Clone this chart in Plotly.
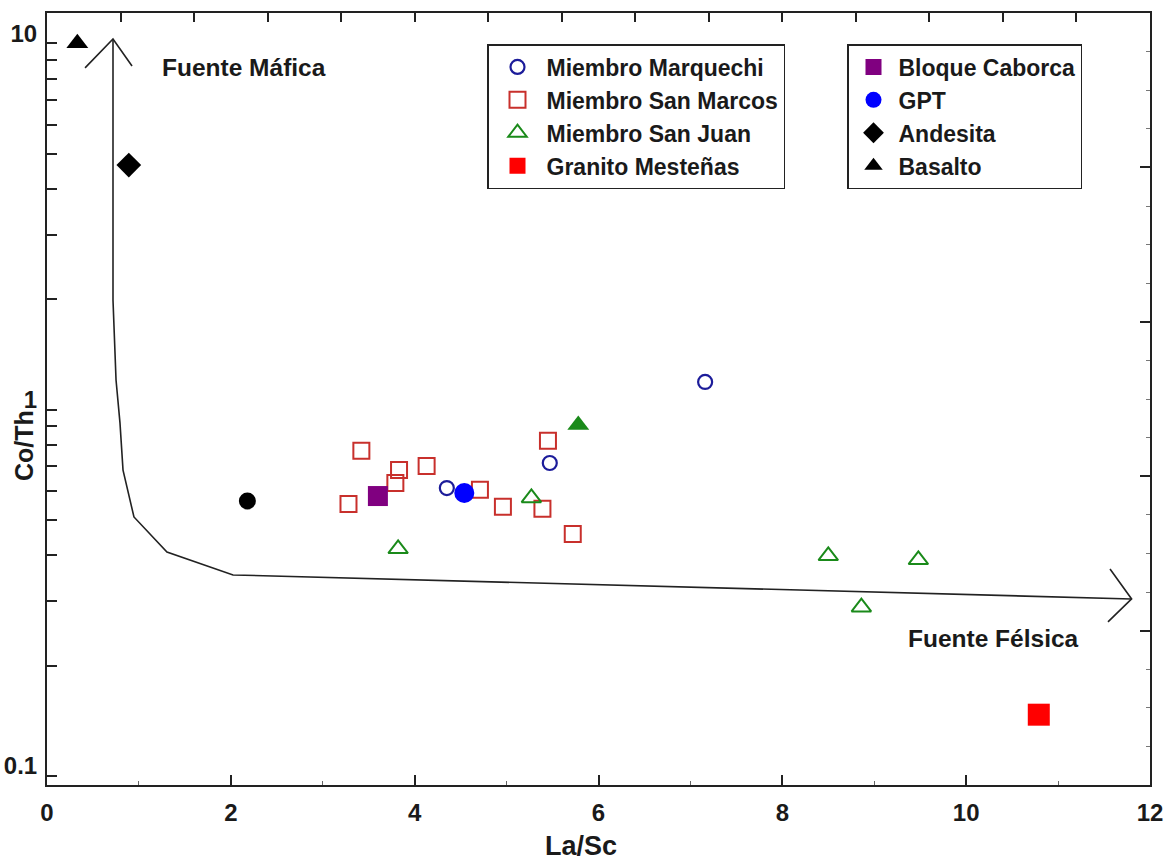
import math
import plotly.graph_objects as go

# ---------------- data ----------------
marq_x = [4.35, 5.47, 7.16]
marq_y = [0.611, 0.715, 1.19]

smarc_x = [3.42, 3.83, 3.79, 4.13, 3.28, 4.71, 4.96, 5.45, 5.39, 5.72]
smarc_y = [0.772, 0.684, 0.631, 0.702, 0.553, 0.604, 0.543, 0.822, 0.536, 0.458]

sjuan_x = [3.82, 5.27, 8.50, 9.48, 8.86]
sjuan_y = [0.417, 0.574, 0.399, 0.389, 0.289]

granito_x = [10.79]
granito_y = [0.147]

caborca_x = [3.60]
caborca_y = [0.581]

gpt_x = [4.54]
gpt_y = [0.592]

andesita_x = [0.89]
andesita_y = [4.65]

basalto_x = [0.33]
basalto_y = [10.0]

green_fill_x = [5.78]
green_fill_y = [0.908]

black_circ_x = [2.18]
black_circ_y = [0.563]

# source-trend curve
curve_x = [0.718, 0.718, 0.751, 0.794, 0.827, 0.946, 1.305, 2.024, 11.80]
curve_y = [10.27, 1.99, 1.205, 0.92, 0.684, 0.5095, 0.4088, 0.3538, 0.3043]
# arrowheads
arrow_up_x = [0.414, 0.718, 0.925]
arrow_up_y = [8.566, 10.27, 8.670]
arrow_right_x = [11.565, 11.80, 11.543]
arrow_right_y = [0.3674, 0.3043, 0.2634]

x_ticks = [0, 2, 4, 6, 8, 10, 12]
y_ticks = [0.1, 1, 10]
y_ticklabels = ["0.1", "1", "10"]
y_minor = [v * m for m in (0.1, 1) for v in range(2, 10)]

FONT = "Liberation Sans, Arial, sans-serif"
TXT = "#1a1a1a"

fig = go.Figure()

# curve and arrowheads
for xs, ys in [(curve_x, curve_y), (arrow_up_x, arrow_up_y), (arrow_right_x, arrow_right_y)]:
    fig.add_trace(go.Scatter(x=xs, y=ys, mode="lines", line=dict(color="#222222", width=1.6),
                             showlegend=False, hoverinfo="skip"))

fig.add_trace(go.Scatter(x=black_circ_x, y=black_circ_y, mode="markers", showlegend=False,
                         marker=dict(symbol="circle", size=17, color="black")))
fig.add_trace(go.Scatter(x=green_fill_x, y=green_fill_y, mode="markers", showlegend=False,
                         marker=dict(symbol="triangle-up", size=19, color="#1a8a1a")))

fig.add_trace(go.Scatter(x=marq_x, y=marq_y, mode="markers", name="Miembro Marquechi", legend="legend",
                         marker=dict(symbol="circle-open", size=14, color="#1c1c9a", line=dict(width=2.2))))
fig.add_trace(go.Scatter(x=smarc_x, y=smarc_y, mode="markers", name="Miembro San Marcos", legend="legend",
                         marker=dict(symbol="square-open", size=16, color="#c8302c", line=dict(width=2))))
fig.add_trace(go.Scatter(x=sjuan_x, y=sjuan_y, mode="markers", name="Miembro San Juan", legend="legend",
                         marker=dict(symbol="triangle-up-open", size=17, color="#1a8a1a", line=dict(width=2))))
fig.add_trace(go.Scatter(x=granito_x, y=granito_y, mode="markers", name="Granito Mesteñas", legend="legend",
                         marker=dict(symbol="square", size=22, color="#ff0000")))

fig.add_trace(go.Scatter(x=caborca_x, y=caborca_y, mode="markers", name="Bloque Caborca", legend="legend2",
                         marker=dict(symbol="square", size=20, color="#800080")))
fig.add_trace(go.Scatter(x=gpt_x, y=gpt_y, mode="markers", name="GPT", legend="legend2",
                         marker=dict(symbol="circle", size=20, color="#0000ff")))
fig.add_trace(go.Scatter(x=andesita_x, y=andesita_y, mode="markers", name="Andesita", legend="legend2",
                         marker=dict(symbol="diamond", size=19, color="black")))
fig.add_trace(go.Scatter(x=basalto_x, y=basalto_y, mode="markers", name="Basalto", legend="legend2",
                         marker=dict(symbol="triangle-up", size=19, color="black")))

# overlay axes for the top/right frame ticks
fig.add_trace(go.Scatter(x=[0], y=[0], xaxis="x2", yaxis="y2", mode="markers",
                         marker=dict(opacity=0), showlegend=False, hoverinfo="skip"))

fig.update_layout(
    width=1166, height=863,
    margin=dict(l=47, r=16, t=13, b=78, autoexpand=False),
    paper_bgcolor="white", plot_bgcolor="white",
    font=dict(family=FONT, size=24, color=TXT),
    xaxis=dict(range=[0, 12], tickvals=x_ticks, ticks="inside", ticklen=10, tickwidth=1.5,
               tickcolor="#222", showline=True, linecolor="#222", linewidth=2, mirror=True,
               showgrid=False, zeroline=False, ticklabelstandoff=5, automargin=False,
               tickfont=dict(family=FONT, size=24, color=TXT, weight="bold"),
               minor=dict(tickmode="array", tickvals=[1, 3, 5, 7, 9, 11], ticks="inside",
                          ticklen=4, tickwidth=1, tickcolor="#666")),
    yaxis=dict(type="log", range=[-1.0246, 1.0827], tickvals=y_ticks, ticktext=y_ticklabels,
               ticks="inside", ticklen=10, tickwidth=1.5, tickcolor="#222",
               showline=True, linecolor="#222", linewidth=2, mirror=True, automargin=False,
               showgrid=False, zeroline=False, ticklabelstandoff=3, ticklabelshift=-10,
               tickfont=dict(family=FONT, size=24, color=TXT, weight="bold"),
               minor=dict(tickmode="array", tickvals=y_minor, ticks="inside", ticklen=10,
                          tickwidth=1.5, tickcolor="#222")),
    xaxis2=dict(overlaying="x", side="top", range=[0, 15], tickmode="linear", tick0=0, dtick=1,
                ticks="inside", ticklen=9, tickwidth=1.5, tickcolor="#222", showticklabels=False,
                showline=False, showgrid=False, zeroline=False, automargin=False),
    yaxis2=dict(overlaying="y", side="right", range=[0, 5], tickmode="linear", tick0=0, dtick=1,
                ticks="inside", ticklen=10, tickwidth=1.5, tickcolor="#222", showticklabels=False,
                showline=False, showgrid=False, zeroline=False, automargin=False,
                minor=dict(tickmode="linear", tick0=0, dtick=0.25, ticks="inside", ticklen=4,
                           tickwidth=1, tickcolor="#777")),
    legend=dict(x=(487 - 47) / 1103, y=(785 - 44) / 772, xanchor="left", yanchor="top",
                bordercolor="#222", borderwidth=1.5, bgcolor="white", itemwidth=48,
                font=dict(family=FONT, size=23, color=TXT, weight="bold"), tracegroupgap=0),
    legend2=dict(x=(847 - 47) / 1103, y=(785 - 44) / 772, xanchor="left", yanchor="top",
                 bordercolor="#222", borderwidth=1.5, bgcolor="white", itemwidth=40,
                 font=dict(family=FONT, size=23, color=TXT, weight="bold"), tracegroupgap=0),
    annotations=[
        dict(text="<b>Fuente Máfica</b>", x=2.14, y=math.log10(8.6), xref="x", yref="y",
             xanchor="center", yanchor="middle",
             showarrow=False, font=dict(family=FONT, size=24.5, color=TXT)),
        dict(text="<b>Fuente Félsica</b>", x=10.30, y=math.log10(0.238), xref="x", yref="y",
             xanchor="center", yanchor="middle",
             showarrow=False, font=dict(family=FONT, size=24.5, color=TXT)),
        dict(text="<b>La/Sc</b>", x=(581 - 47) / 1103, y=(785 - 846) / 772, xref="paper", yref="paper",
             xanchor="center", yanchor="middle",
             showarrow=False, font=dict(family=FONT, size=27, color=TXT)),
        dict(text="<b>Co/Th</b>", x=(24 - 47) / 1103, y=(785 - 446) / 772, xref="paper", yref="paper",
             xanchor="center", yanchor="middle",
             showarrow=False, textangle=-90, font=dict(family=FONT, size=25, color=TXT)),
    ],
)

fig.write_html("out.html", post_script="document.body.style.margin='0';",
               config={"displayModeBar": False})
